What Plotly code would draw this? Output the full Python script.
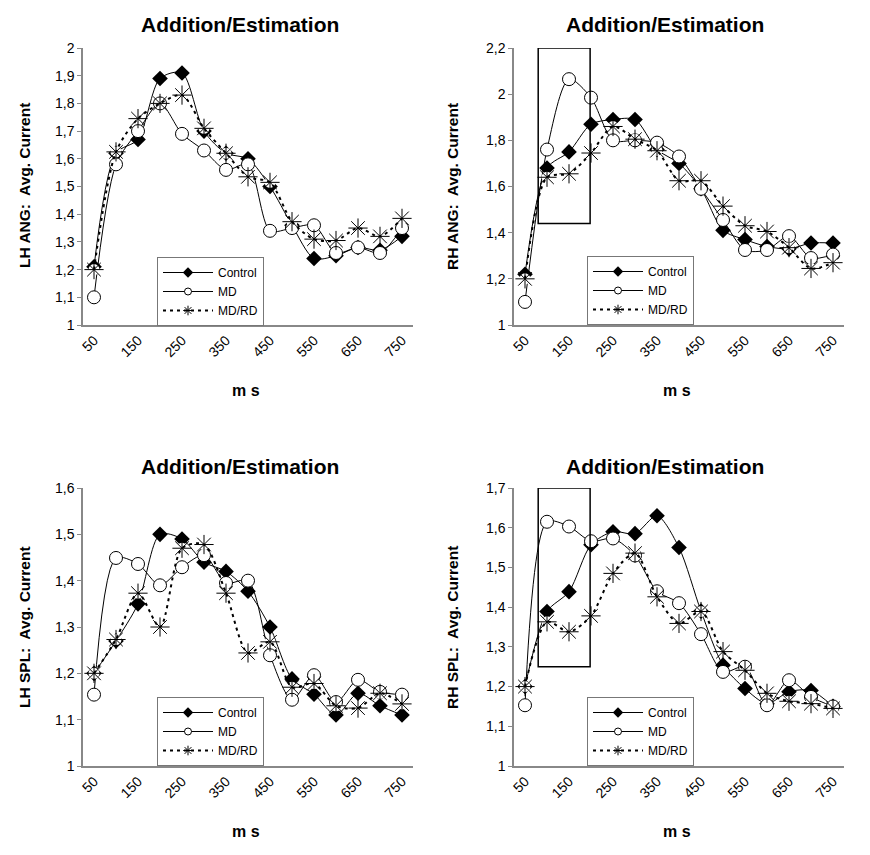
import plotly.graph_objects as go

# time points (ms) and tick labels
ms = [50, 100, 150, 200, 250, 300, 350, 400, 450, 500, 550, 600, 650, 700, 750]
x_ticks = [50, 150, 250, 350, 450, 550, 650, 750]

# LH ANG
lh_ang_control = [1.21, 1.62, 1.67, 1.89, 1.91, 1.70, 1.62, 1.60, 1.50, 1.36, 1.24, 1.25, 1.28, 1.27, 1.32]
lh_ang_md = [1.10, 1.58, 1.70, 1.80, 1.69, 1.63, 1.56, 1.58, 1.34, 1.35, 1.36, 1.26, 1.28, 1.26, 1.35]
lh_ang_mdrd = [1.20, 1.625, 1.745, 1.80, 1.83, 1.71, 1.62, 1.535, 1.515, 1.373, 1.31, 1.305, 1.35, 1.32, 1.385]

# RH ANG
rh_ang_control = [1.22, 1.68, 1.75, 1.87, 1.89, 1.89, 1.76, 1.70, 1.59, 1.41, 1.37, 1.34, 1.33, 1.355, 1.355]
rh_ang_md = [1.10, 1.76, 2.065, 1.985, 1.80, 1.80, 1.79, 1.73, 1.59, 1.455, 1.325, 1.325, 1.385, 1.29, 1.305]
rh_ang_mdrd = [1.20, 1.64, 1.655, 1.745, 1.86, 1.805, 1.755, 1.625, 1.625, 1.515, 1.43, 1.405, 1.335, 1.245, 1.27]

# LH SPL
lh_spl_control = [1.20, 1.27, 1.35, 1.50, 1.49, 1.44, 1.42, 1.377, 1.30, 1.188, 1.155, 1.11, 1.157, 1.13, 1.11]
lh_spl_md = [1.154, 1.449, 1.436, 1.39, 1.429, 1.455, 1.395, 1.40, 1.239, 1.143, 1.196, 1.138, 1.186, 1.16, 1.154]
lh_spl_mdrd = [1.20, 1.273, 1.373, 1.30, 1.47, 1.478, 1.373, 1.244, 1.268, 1.17, 1.178, 1.13, 1.125, 1.157, 1.134]

# RH SPL
rh_spl_control = [1.20, 1.389, 1.439, 1.557, 1.59, 1.585, 1.63, 1.55, 1.39, 1.254, 1.195, 1.157, 1.187, 1.19, 1.15]
rh_spl_md = [1.153, 1.615, 1.603, 1.566, 1.573, 1.53, 1.44, 1.41, 1.332, 1.237, 1.25, 1.153, 1.216, 1.174, 1.15]
rh_spl_mdrd = [1.20, 1.363, 1.338, 1.378, 1.485, 1.536, 1.426, 1.359, 1.389, 1.288, 1.241, 1.183, 1.163, 1.157, 1.145]

W, H = 870, 855


def px(x):
    return x / W


def py(y):
    return 1 - y / H


panels = [
    dict(name="LH ANG:  Avg. Current", data=(lh_ang_control, lh_ang_md, lh_ang_mdrd),
         yticks=[1, 1.1, 1.2, 1.3, 1.4, 1.5, 1.6, 1.7, 1.8, 1.9, 2], xd=(83, 413), yd=(325, 48),
         leg=(157, 257), ytitle=(24, 186), title=(240, 25), xt=(246, 390)),
    dict(name="RH ANG:  Avg. Current", data=(rh_ang_control, rh_ang_md, rh_ang_mdrd),
         yticks=[1, 1.2, 1.4, 1.6, 1.8, 2, 2.2], xd=(514, 844), yd=(325, 48),
         leg=(587, 256), ytitle=(452, 186), title=(665, 25), xt=(677, 390)),
    dict(name="LH SPL:  Avg. Current", data=(lh_spl_control, lh_spl_md, lh_spl_mdrd),
         yticks=[1, 1.1, 1.2, 1.3, 1.4, 1.5, 1.6], xd=(83, 413), yd=(766, 488),
         leg=(157, 697), ytitle=(24, 627), title=(240, 466), xt=(246, 831)),
    dict(name="RH SPL:  Avg. Current", data=(rh_spl_control, rh_spl_md, rh_spl_mdrd),
         yticks=[1, 1.1, 1.2, 1.3, 1.4, 1.5, 1.6, 1.7], xd=(514, 844), yd=(766, 488),
         leg=(587, 697), ytitle=(452, 627), title=(665, 466), xt=(677, 831)),
]

# highlighted windows (RH panels)
boxes = {1: (80, 198, 1.44, 2.2), 3: (80, 198, 1.25, 1.70)}

fig = go.Figure()
font = "Liberation Sans, Arial, sans-serif"
annotations = []
shapes = []

styles = {
    "Control": dict(line=dict(color="black", width=1, shape="spline", smoothing=0.8),
                    marker=dict(symbol="diamond", size=12, color="black")),
    "MD": dict(line=dict(color="black", width=1, shape="spline", smoothing=0.8),
               marker=dict(symbol="circle", size=13, color="white", line=dict(color="black", width=1))),
    "MD/RD": dict(line=dict(color="black", width=2, dash="3px,4px", shape="spline", smoothing=0.8),
                  marker=dict(symbol="asterisk-open", size=16, color="black", line=dict(color="black", width=1))),
}
legend_marker = {
    "Control": dict(symbol="diamond", size=8, color="black"),
    "MD": dict(symbol="circle", size=7, color="white", line=dict(color="black", width=1)),
    "MD/RD": dict(symbol="asterisk-open", size=8, color="black", line=dict(color="black", width=1)),
}

for i, p in enumerate(panels):
    n = i + 1
    sfx = "" if n == 1 else str(n)
    leg = "legend" if n == 1 else f"legend{n}"
    for name, vals in zip(["Control", "MD", "MD/RD"], p["data"]):
        st = styles[name]
        if name == "MD/RD":
            # the asterisk marker is opaque in the original: white backing under it
            fig.add_trace(go.Scatter(
                x=ms, y=vals, mode="markers", hoverinfo="skip", showlegend=False,
                marker=dict(symbol="circle", size=11, color="white"),
                xaxis="x" + sfx, yaxis="y" + sfx))
        fig.add_trace(go.Scatter(
            x=ms, y=vals, name=name, mode="lines+markers",
            line=st["line"], marker=st["marker"], showlegend=False,
            xaxis="x" + sfx, yaxis="y" + sfx))
        # small-marker entry for the legend box
        fig.add_trace(go.Scatter(
            x=[None], y=[None], name=name, mode="lines+markers",
            line=dict(color="black", width=1 if name != "MD/RD" else 2,
                      dash="solid" if name != "MD/RD" else "3px,4px"),
            marker=legend_marker[name],
            xaxis="x" + sfx, yaxis="y" + sfx, legend=leg))

    yt = p["yticks"]
    fig.update_layout(**{
        "xaxis" + sfx: dict(
            domain=[px(p["xd"][0]), px(p["xd"][1])], range=[25, 775],
            tickvals=x_ticks, ticktext=[str(v) for v in x_ticks], tickangle=-45,
            showline=True, linecolor="#888888", linewidth=1.5, showgrid=False, zeroline=False,
            ticks="", tickfont=dict(size=14, color="black", family=font),
            anchor="y" + sfx, automargin=False),
        "yaxis" + sfx: dict(
            domain=[py(p["yd"][0]), py(p["yd"][1])], range=[yt[0], yt[-1]],
            tickvals=yt, ticktext=[f"{v:g}".replace(".", ",") for v in yt],
            showline=True, linecolor="#888888", linewidth=1.5, showgrid=False, zeroline=False,
            ticks="outside", ticklen=4, tickcolor="#888888",
            tickfont=dict(size=14, color="black", family=font),
            anchor="x" + sfx, automargin=False),
        leg: dict(
            x=px(p["leg"][0]), y=py(p["leg"][1]), xanchor="left", yanchor="top",
            bgcolor="white", bordercolor="#777777", borderwidth=1,
            font=dict(size=12, color="black", family=font),
            itemwidth=50, tracegroupgap=0, traceorder="normal"),
    })

    annotations.append(dict(
        text="<b>Addition/Estimation</b>", x=px(p["title"][0]), y=py(p["title"][1]),
        xref="paper", yref="paper", xanchor="center", yanchor="middle", showarrow=False,
        font=dict(size=21, color="black", family=font)))
    annotations.append(dict(
        text="<b>" + p["name"] + "</b>", x=px(p["ytitle"][0]), y=py(p["ytitle"][1]),
        xref="paper", yref="paper", xanchor="center", yanchor="middle", showarrow=False,
        textangle=-90, font=dict(size=15.5, color="black", family=font)))
    annotations.append(dict(
        text="<b>m s</b>", x=px(p["xt"][0]), y=py(p["xt"][1]),
        xref="paper", yref="paper", xanchor="center", yanchor="middle", showarrow=False,
        font=dict(size=16, color="black", family=font)))

    if i in boxes:
        x0, x1, y0, y1 = boxes[i]
        shapes.append(dict(type="rect", xref="x" + sfx, yref="y" + sfx,
                           x0=x0, x1=x1, y0=y0, y1=y1,
                           line=dict(color="black", width=1.5)))

fig.update_layout(
    width=W, height=H,
    margin=dict(l=0, r=0, t=0, b=0, autoexpand=False),
    paper_bgcolor="white", plot_bgcolor="white",
    annotations=annotations,
    shapes=shapes,
    font=dict(family=font, color="black"),
)

# put the figure flush with the window corner and keep the page exactly one figure tall
page_fix = (
    "document.body.style.margin='0';"
    "document.body.style.overflow='hidden';"
    "document.documentElement.style.overflow='hidden';"
    "var g=document.getElementsByClassName('plotly-graph-div')[0];"
    "g.parentElement.style.height='855px';g.parentElement.style.overflow='hidden';"
)
fig.write_html("out.html", config={"displayModeBar": False}, post_script=page_fix)
